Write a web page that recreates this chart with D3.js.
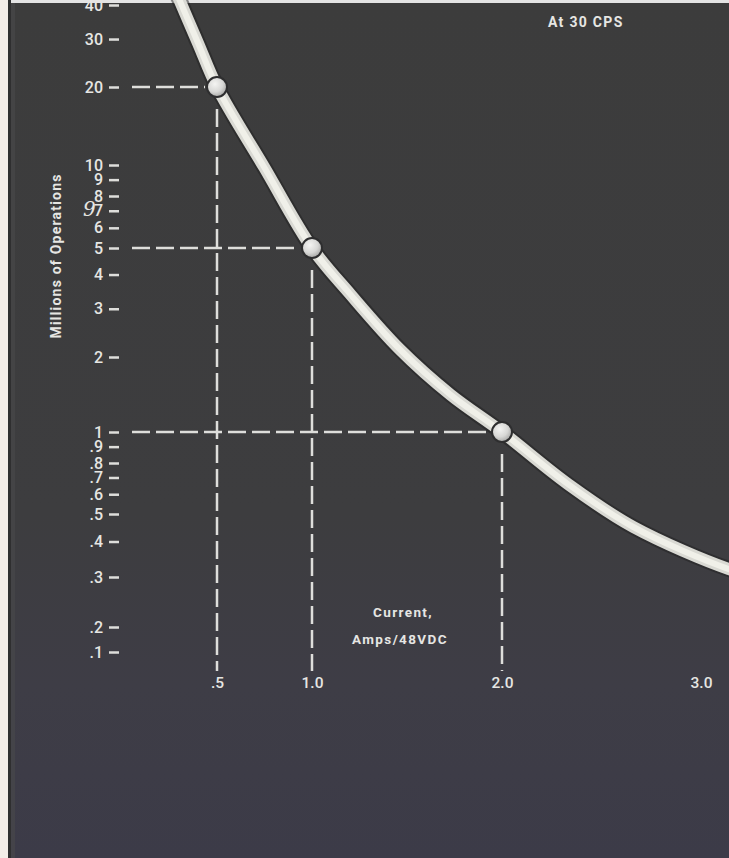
<!DOCTYPE html>
<html>
<head>
<meta charset="utf-8">
<script src="https://cdn.jsdelivr.net/npm/d3@7"></script>
<style>
  body { margin: 0; background: #3c3c3d; }
  svg { display: block; }
  text { font-family: Roboto, "Liberation Sans", sans-serif; fill: #e6e6e3; }
</style>
</head>
<body>
<svg id="chart" width="729" height="858"></svg>
<script>
// operations (millions) vs. current
var yTicks = [40, 30, 20, 10, 9, 8, 7, 6, 5, 4, 3, 2, 1, .9, .8, .7, .6, .5, .4, .3, .2, .1];
var yTickLabels = ["40", "30", "20", "10", "9", "8", "7", "6", "5", "4", "3", "2", "1", ".9", ".8", ".7", ".6", ".5", ".4", ".3", ".2", ".1"];
var xTicks = [.5, 1, 2, 3];
var xTickLabels = [".5", "1.0", "2.0", "3.0"];

var curveAmps = [.28, .4, .5, .75, 1, 1.2, 1.46, 1.73, 2, 2.33, 2.66, 3.14, 3.3];
var curveOps = [45.4, 29, 20, 9.8, 5, 3.4, 2.14, 1.41, 1, .66, .45, .32, .3];

var markAmps = [.5, 1, 2];
var markOps = [20, 5, 1];

var width = 729,
    height = 858;

var svg = d3.select("#chart");
var defs = svg.append("defs");

var bg = defs.append("linearGradient").attr("id", "bg")
    .attr("x1", 0).attr("y1", 0).attr("x2", 0).attr("y2", 1);
bg.append("stop").attr("offset", "0").attr("stop-color", "#3c3c3c");
bg.append("stop").attr("offset", "0.6").attr("stop-color", "#3d3d3f");
bg.append("stop").attr("offset", "0.8").attr("stop-color", "#3e3d46");
bg.append("stop").attr("offset", "1").attr("stop-color", "#3c3b48");

var ball = defs.append("radialGradient").attr("id", "ball")
    .attr("cx", "40%").attr("cy", "35%").attr("r", "65%");
ball.append("stop").attr("offset", "0").attr("stop-color", "#f4f4f2");
ball.append("stop").attr("offset", "0.6").attr("stop-color", "#d8d8d6");
ball.append("stop").attr("offset", "1").attr("stop-color", "#a9a9a7");

svg.append("rect").attr("width", width).attr("height", height).attr("fill", "url(#bg)");
// paper edge on the left and top of the scan
svg.append("rect").attr("x", 0).attr("y", 0).attr("width", 8).attr("height", height).attr("fill", "#f3ede8");
svg.append("rect").attr("x", 8).attr("y", 0).attr("width", 3).attr("height", height).attr("fill", "#2f2f30");
svg.append("rect").attr("x", 11).attr("y", 0).attr("width", 4).attr("height", height).attr("fill", "#4a4a4b").attr("opacity", 0.6);
svg.append("rect").attr("x", 11).attr("y", 0).attr("width", width).attr("height", 3).attr("fill", "#e4e4e4");

var x = d3.scaleLinear().domain([0, 1, 2, 3]).range([122, 312, 502, 701]);
// the printed log axis is not quite even, so it is pinned at a few ticks
var y = d3.scaleLog()
    .domain([.1, .2, .5, .8, 1, 2, 5, 8, 10, 20, 40])
    .range([652, 627, 514, 463, 432, 357, 248, 196, 165, 87, 5]);

var guideColor = "#dededb";

// dashed guides
var guides = svg.append("g");
markAmps.forEach(function(a, i) {
    guides.append("line")
        .attr("x1", x(0) + 10).attr("x2", x(a) - 12)
        .attr("y1", y(markOps[i])).attr("y2", y(markOps[i]))
        .attr("stroke", guideColor).attr("stroke-width", 2.5)
        .attr("stroke-dasharray", "18,6");
    guides.append("line")
        .attr("x1", x(a)).attr("x2", x(a))
        .attr("y1", y(markOps[i]) + 22).attr("y2", 671)
        .attr("stroke", guideColor).attr("stroke-width", 2.5)
        .attr("stroke-dasharray", "18,6");
});

// y axis
var yAxis = svg.append("g")
    .attr("transform", "translate(121,0)")
    .call(d3.axisLeft(y).tickValues(yTicks).tickSize(12).tickPadding(6)
        .tickFormat(function(d, i) { return yTickLabels[i]; }));
yAxis.select(".domain").remove();
yAxis.selectAll(".tick line").attr("stroke", guideColor).attr("stroke-width", 2.5).attr("x2", -2).attr("x1", -12);
yAxis.selectAll(".tick text")
    .style("font-family", "Roboto, sans-serif")
    .style("font-size", "16px").style("font-weight", 500)
    .attr("fill", "#e6e6e3");

// x axis
var xAxis = svg.append("g")
    .attr("transform", "translate(0,677)")
    .call(d3.axisBottom(x).tickValues(xTicks).tickSize(0).tickPadding(0)
        .tickFormat(function(d, i) { return xTickLabels[i]; }));
xAxis.select(".domain").remove();
xAxis.selectAll(".tick text")
    .style("font-family", "Roboto, sans-serif")
    .style("font-size", "15.5px").style("font-weight", 500)
    .attr("fill", "#e6e6e3");

// the curve
var line = d3.line()
    .x(function(d) { return x(d[0]); })
    .y(function(d) { return y(d[1]); })
    .curve(d3.curveCatmullRom.alpha(0.5));
var pts = curveAmps.map(function(a, i) { return [a, curveOps[i]]; });

svg.append("path").datum(pts).attr("d", line)
    .attr("fill", "none").attr("stroke", "#1f1f20").attr("stroke-opacity", 0.5).attr("stroke-width", 16);
svg.append("path").datum(pts).attr("d", line)
    .attr("fill", "none").attr("stroke", "#d9d9d3").attr("stroke-width", 12);
svg.append("path").datum(pts).attr("d", line)
    .attr("fill", "none").attr("stroke", "#f0f0e9").attr("stroke-width", 6);

svg.selectAll("circle.mark")
    .data(markAmps)
    .enter().append("circle")
    .attr("class", "mark")
    .attr("cx", function(d) { return x(d); })
    .attr("cy", function(d, i) { return y(markOps[i]); })
    .attr("r", 10)
    .attr("fill", "url(#ball)")
    .attr("stroke", "#2e2e2f").attr("stroke-width", 2);

// labels
svg.append("text")
    .attr("transform", "translate(61,256) rotate(-90)")
    .attr("text-anchor", "middle")
    .style("font-size", "14px").style("font-weight", 700).style("letter-spacing", "1.2px")
    .text("Millions of Operations");

svg.append("text")
    .attr("x", 83).attr("y", 216)
    .style("font-family", "DejaVu Serif").style("font-style", "italic")
    .style("font-size", "20px").attr("fill", "#d8d8d4")
    .text("9");

svg.append("text")
    .attr("x", 403).attr("y", 617)
    .attr("text-anchor", "middle")
    .style("font-size", "13.5px").style("font-weight", 700).style("letter-spacing", "1.4px")
    .text("Current,");
svg.append("text")
    .attr("x", 400).attr("y", 644)
    .attr("text-anchor", "middle")
    .style("font-size", "13.5px").style("font-weight", 700).style("letter-spacing", "1.4px")
    .text("Amps/48VDC");

svg.append("text")
    .attr("x", 548).attr("y", 27)
    .style("font-size", "14px").style("font-weight", 700).style("letter-spacing", "1.3px")
    .text("At 30 CPS");
</script>
</body>
</html>
